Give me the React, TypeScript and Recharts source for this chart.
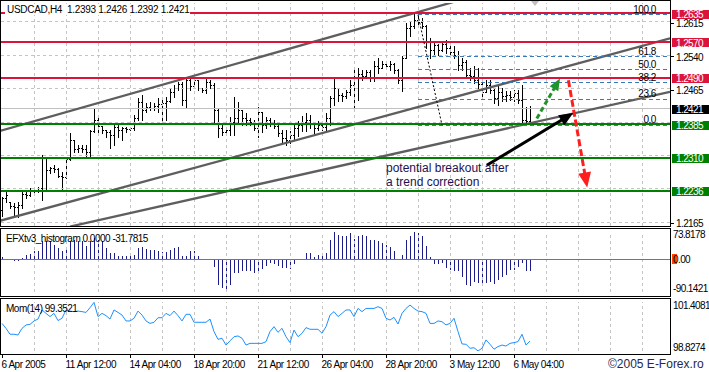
import React from 'react';
import { ComposedChart, Bar, Line, XAxis, YAxis, ReferenceLine } from 'recharts';

const FONT = '"Liberation Sans", Arial, sans-serif';

// USDCAD H4, 6 Apr 2005 20:00 .. 6 May 2005 20:00 (133 bars)
const barOpen = [
  1.2193, 1.2220, 1.2211, 1.2202, 1.2200, 1.2204, 1.2229, 1.2226, 1.2235, 1.2238,
  1.2242, 1.2309, 1.2282, 1.2287, 1.2285, 1.2269, 1.2267, 1.2307, 1.2350, 1.2329,
  1.2332, 1.2329, 1.2323, 1.2370, 1.2395, 1.2381, 1.2372, 1.2368, 1.2361, 1.2379,
  1.2372, 1.2377, 1.2374, 1.2377, 1.2399, 1.2435, 1.2417, 1.2424, 1.2421, 1.2426,
  1.2430, 1.2433, 1.2437, 1.2457, 1.2466, 1.2475, 1.2439, 1.2484, 1.2471, 1.2484,
  1.2466, 1.2462, 1.2480, 1.2473, 1.2417, 1.2377, 1.2368, 1.2372, 1.2390, 1.2399,
  1.2417, 1.2399, 1.2395, 1.2390, 1.2377, 1.2412, 1.2383, 1.2395, 1.2390, 1.2381,
  1.2365, 1.2354, 1.2350, 1.2361, 1.2377, 1.2383, 1.2390, 1.2395, 1.2386, 1.2377,
  1.2383, 1.2379, 1.2399, 1.2444, 1.2466, 1.2451, 1.2448, 1.2457, 1.2473, 1.2489,
  1.2498, 1.2493, 1.2502, 1.2489, 1.2516, 1.2511, 1.2520, 1.2516, 1.2520, 1.2507,
  1.2484, 1.2533, 1.2601, 1.2605, 1.2619, 1.2614, 1.2605, 1.2569, 1.2551, 1.2563,
  1.2551, 1.2565, 1.2556, 1.2547, 1.2540, 1.2518, 1.2525, 1.2495, 1.2493, 1.2484,
  1.2475, 1.2457, 1.2473, 1.2462, 1.2444, 1.2457, 1.2448, 1.2451, 1.2446, 1.2455,
  1.2439, 1.2395, 1.2393,
];
const barHigh = [
  1.2222, 1.2233, 1.2211, 1.2208, 1.2211, 1.2233, 1.2233, 1.2242, 1.2244, 1.2244,
  1.2316, 1.2309, 1.2289, 1.2294, 1.2287, 1.2278, 1.2309, 1.2365, 1.2350, 1.2338,
  1.2338, 1.2338, 1.2372, 1.2419, 1.2401, 1.2381, 1.2372, 1.2372, 1.2383, 1.2383,
  1.2379, 1.2379, 1.2379, 1.2406, 1.2444, 1.2451, 1.2433, 1.2435, 1.2433, 1.2444,
  1.2444, 1.2446, 1.2466, 1.2473, 1.2480, 1.2480, 1.2491, 1.2493, 1.2489, 1.2484,
  1.2466, 1.2489, 1.2484, 1.2477, 1.2421, 1.2388, 1.2379, 1.2401, 1.2446, 1.2435,
  1.2417, 1.2410, 1.2399, 1.2395, 1.2424, 1.2412, 1.2401, 1.2399, 1.2395, 1.2388,
  1.2372, 1.2372, 1.2370, 1.2388, 1.2392, 1.2404, 1.2410, 1.2406, 1.2388, 1.2392,
  1.2392, 1.2410, 1.2448, 1.2489, 1.2466, 1.2455, 1.2462, 1.2484, 1.2507, 1.2511,
  1.2507, 1.2507, 1.2507, 1.2527, 1.2533, 1.2527, 1.2522, 1.2527, 1.2522, 1.2509,
  1.2538, 1.2612, 1.2616, 1.2632, 1.2628, 1.2623, 1.2607, 1.2578, 1.2572, 1.2565,
  1.2572, 1.2574, 1.2567, 1.2560, 1.2549, 1.2533, 1.2529, 1.2511, 1.2516, 1.2511,
  1.2477, 1.2484, 1.2484, 1.2466, 1.2473, 1.2466, 1.2459, 1.2459, 1.2462, 1.2462,
  1.2473, 1.2424, 1.2426,
];
const barLow = [
  1.2179, 1.2211, 1.2197, 1.2177, 1.2177, 1.2197, 1.2220, 1.2224, 1.2231, 1.2233,
  1.2215, 1.2238, 1.2276, 1.2278, 1.2267, 1.2238, 1.2264, 1.2305, 1.2323, 1.2323,
  1.2323, 1.2309, 1.2309, 1.2368, 1.2365, 1.2365, 1.2356, 1.2332, 1.2338, 1.2356,
  1.2350, 1.2368, 1.2372, 1.2372, 1.2395, 1.2395, 1.2412, 1.2417, 1.2417, 1.2412,
  1.2395, 1.2395, 1.2435, 1.2446, 1.2462, 1.2428, 1.2424, 1.2462, 1.2466, 1.2462,
  1.2457, 1.2455, 1.2466, 1.2390, 1.2356, 1.2361, 1.2361, 1.2361, 1.2361, 1.2388,
  1.2383, 1.2383, 1.2383, 1.2372, 1.2356, 1.2368, 1.2377, 1.2381, 1.2377, 1.2359,
  1.2343, 1.2338, 1.2343, 1.2350, 1.2359, 1.2370, 1.2370, 1.2377, 1.2365, 1.2372,
  1.2372, 1.2372, 1.2383, 1.2428, 1.2437, 1.2437, 1.2444, 1.2451, 1.2421, 1.2439,
  1.2484, 1.2493, 1.2482, 1.2482, 1.2500, 1.2511, 1.2511, 1.2507, 1.2500, 1.2477,
  1.2459, 1.2533, 1.2583, 1.2601, 1.2607, 1.2601, 1.2556, 1.2533, 1.2538, 1.2540,
  1.2549, 1.2545, 1.2538, 1.2533, 1.2507, 1.2507, 1.2489, 1.2484, 1.2477, 1.2466,
  1.2448, 1.2457, 1.2455, 1.2433, 1.2428, 1.2437, 1.2437, 1.2439, 1.2437, 1.2433,
  1.2388, 1.2386, 1.2392,
];
const barClose = [
  1.2220, 1.2226, 1.2202, 1.2200, 1.2204, 1.2229, 1.2226, 1.2235, 1.2238, 1.2242,
  1.2309, 1.2282, 1.2287, 1.2285, 1.2269, 1.2267, 1.2307, 1.2350, 1.2329, 1.2332,
  1.2329, 1.2323, 1.2370, 1.2395, 1.2381, 1.2372, 1.2368, 1.2361, 1.2379, 1.2372,
  1.2377, 1.2374, 1.2377, 1.2399, 1.2435, 1.2417, 1.2424, 1.2421, 1.2426, 1.2430,
  1.2433, 1.2437, 1.2457, 1.2466, 1.2475, 1.2439, 1.2484, 1.2471, 1.2484, 1.2466,
  1.2462, 1.2480, 1.2473, 1.2417, 1.2377, 1.2368, 1.2372, 1.2390, 1.2399, 1.2417,
  1.2399, 1.2395, 1.2390, 1.2377, 1.2412, 1.2383, 1.2395, 1.2390, 1.2381, 1.2365,
  1.2354, 1.2350, 1.2361, 1.2377, 1.2383, 1.2390, 1.2395, 1.2386, 1.2377, 1.2383,
  1.2379, 1.2399, 1.2444, 1.2466, 1.2451, 1.2448, 1.2457, 1.2473, 1.2489, 1.2498,
  1.2493, 1.2502, 1.2489, 1.2516, 1.2511, 1.2520, 1.2516, 1.2520, 1.2507, 1.2484,
  1.2533, 1.2601, 1.2605, 1.2619, 1.2614, 1.2605, 1.2569, 1.2551, 1.2563, 1.2551,
  1.2565, 1.2556, 1.2547, 1.2540, 1.2518, 1.2525, 1.2495, 1.2493, 1.2484, 1.2475,
  1.2457, 1.2473, 1.2462, 1.2444, 1.2457, 1.2448, 1.2451, 1.2446, 1.2455, 1.2439,
  1.2395, 1.2392, 1.2421,
];

const efxHist = [
  4.5, -3, -4, -5, -6, 4, 12, 14, 21, 21,
  48, 48, 48, 39, 30, 21, 32, 48, 53, 48,
  48, 36, 50, 57, 53, 48, 30, 16, 16, 9,
  9, 7, 7, 12, 30, 33, 28, 25, 25, 23,
  18, 18, 25, 30, 33, 9, 9, 21, 21, 9,
  0, 0, 0, -23, -70, -79, -90.1, -70, -38, -38,
  -34, -34, -34, -38, -38, -27, -18, -11, -14, -20,
  -25, -25, -27, -14, -4, 0, 16, 16, 5, 12,
  12, 16, 51, 73.8, 66, 62, 62, 70, 55, 62,
  66, 64, 53, 53, 48, 44, 39, 33, 21, 0,
  12, 53, 62, 73, 71, 62, 36, 5, -13, -13,
  -11, -25, -31, -34, -34, -50, -70, -73, -64, -65,
  -73, -65, -63, -68, -56, -50, -43, -31, -29, -22,
  -11, -34, -31.78,
];

const momentum = [
  100.28, 100.02, 99.71, 99.71, 99.67, 100.02, 100.2, 100.23, 100.41, 100.51,
  100.99, 100.81, 100.64, 100.81, 100.43, 100.55, 100.99, 100.93, 100.9, 100.93,
  100.9, 100.86, 101.11, 101.39, 100.64, 100.81, 100.69, 100.51, 100.99, 100.86,
  100.72, 100.41, 100.41, 100.55, 100.93, 100.72, 100.41, 100.28, 100.34, 100.58,
  100.58, 100.81, 100.69, 100.93, 100.69, 100.41, 100.76, 100.76, 100.34, 100.34,
  100.34, 100.34, 100.51, 99.85, 99.44, 99.5, 99.14, 99.36, 99.58, 99.62,
  99.5, 99.14, 99.23, 99.23, 99.23, 99.23, 99.32, 99.85, 100.11, 99.81,
  100.02, 99.58, 99.27, 99.93, 99.58, 99.76, 100.06, 99.97, 99.97, 99.97,
  99.76, 100.11, 100.72, 100.9, 100.64, 100.81, 100.99, 100.99, 100.64, 101.07,
  100.9, 101.07, 101.07, 101.07, 101.16, 101.07, 100.55, 100.46, 100.6, 100.25,
  100.81, 101.07, 101.25, 101.07, 100.93, 100.9, 100.81, 100.28, 100.28, 100.41,
  100.37, 100.2, 100.28, 100.55, 99.85, 99.2, 99.18, 98.97, 99.0, 98.83,
  98.97, 99.41, 99.18, 98.92, 99.06, 99.14, 99.09, 99.23, 99.27, 99.32,
  99.71, 99.14, 99.3521,
];

const timeLabels = ['6 Apr 2005', '11 Apr 12:00', '14 Apr 04:00', '18 Apr 20:00', '21 Apr 12:00', '26 Apr 04:00', '28 Apr 20:00', '3 May 12:00', '6 May 04:00'];
const timeLabelBars = [0, 16, 32, 48, 64, 80, 96, 112, 128];
const gridBars = [8, 16, 24, 32, 40, 48, 56, 64, 72, 80, 88, 96, 104, 112, 120, 128, 136, 144, 152, 160];

const priceGrid = [1.2165, 1.224, 1.2315, 1.239, 1.2465, 1.254, 1.2615];
const priceAxisLabels = [1.2165, 1.2465, 1.254, 1.2615];
const redLevels = [1.2635, 1.257, 1.249];
const greenLevels = [1.2385, 1.231, 1.2236];
const bidPrice = 1.2421;

const fibHigh = 1.2631;
const fibLow = 1.2383;
const fibRatios = [100, 61.8, 50, 38.2, 23.6, 0];

// [bar, price] end points of hand-drawn objects
const trendLines = [
  { from: [-0.5, 1.237], to: [114.5, 1.2664] },
  { from: [-0.5, 1.2168], to: [167, 1.2578] },
  { from: [17, 1.2155], to: [167, 1.2458] },
];
const arrows = [
  { from: [133.7, 1.2398], to: [139.5, 1.2488], color: '#22922a', dash: '5 3', head: [12, 10] },
  { from: [141.6, 1.2484], to: [146.3, 1.2243], color: '#ff1e1e', dash: '7 3', head: [15, 13] },
  { from: [121.2, 1.2293], to: [142.8, 1.241], color: '#000000', dash: undefined, head: [14, 12] },
];

const histTicks = [73.8178, 0, -90.1421];
const momTicks = [101.4081, 98.8274];

const PRICE_DOMAIN: [number, number] = [1.21563, 1.26575];
const X_DOMAIN: [number, number] = [-0.5, 167];

const rows = barOpen.map((o, i) => ({
  bar: i,
  range: [barLow[i], barHigh[i]],
  open: o,
  close: barClose[i],
  hist: efxHist[i],
  mom: momentum[i],
}));

const gridStroke = '#c4c4c4';
const labelFont = { fontSize: 10, fontFamily: FONT, letterSpacing: -0.6 };

function OhlcBar(props: any) {
  const { x, y, width, height, payload } = props;
  if (!payload || x == null) return null;
  const cx = Math.round(x + width / 2);
  const top = Math.min(y, y + height);
  const span = Math.abs(height);
  const [lo, hi] = payload.range;
  const toY = (v: number) => (hi === lo ? top : top + ((hi - v) / (hi - lo)) * span);
  const yH = Math.round(top);
  const yL = Math.round(top + span);
  const yO = Math.round(toY(payload.open));
  const yC = Math.round(toY(payload.close));
  return (
    <g fill="#000">
      <rect x={cx} y={yH} width={1} height={Math.max(1, yL - yH + 1)} />
      <rect x={cx - 1} y={yO} width={1} height={1} />
      <rect x={cx + 1} y={yC} width={1} height={1} />
    </g>
  );
}

function HistBar(props: any) {
  const { x, y, width, height } = props;
  if (x == null || !height) return null;
  const cx = Math.round(x + width / 2);
  const t = Math.round(Math.min(y, y + height));
  const b = Math.round(Math.max(y, y + height));
  if (b - t < 1) return null;
  return <rect x={cx} y={t} width={1} height={b - t} fill="#1c1c88" />;
}

function PriceTick(props: any) {
  const { x, y, payload } = props;
  const v = payload.value;
  const label = v.toFixed(4);
  let box: string | null = null;
  if (redLevels.includes(v)) box = '#dc143c';
  else if (greenLevels.includes(v)) box = '#008000';
  else if (v === bidPrice) box = '#000000';
  if (box) {
    return (
      <g>
        <rect x={x + 2} y={Math.round(y - 3.5)} width={39} height={9} fill={box} />
        <text x={x + 6} y={y + 4.8} fill="#fff" {...labelFont}>{label}</text>
      </g>
    );
  }
  const ty = Math.round(y + 1) + 0.5;
  return (
    <g>
      <line x1={x + 1} x2={x + 4} y1={ty} y2={ty} stroke="#000" />
      <text x={x + 6} y={y + 5.3} fill="#000" {...labelFont}>{label}</text>
    </g>
  );
}

function HistTick(props: any) {
  const { x, y, payload } = props;
  const v = payload.value;
  if (v === 0) {
    return (
      <g>
        <rect x={x + 2} y={Math.round(y) - 5} width={5} height={10} fill="#ff4500" />
        <text x={x + 3} y={y + 3.6} fill="#000" {...labelFont}>0.00</text>
      </g>
    );
  }
  const dy = v > 0 ? 5.9 : -0.1;
  return <text x={x + 3} y={y + dy} fill="#000" {...labelFont}>{v.toFixed(4)}</text>;
}

function MomTick(props: any) {
  const { x, y, payload } = props;
  const v = payload.value;
  const dy = v > 100 ? 6.6 : -0.1;
  return <text x={x + 3} y={y + dy} fill="#000" {...labelFont}>{v.toFixed(4)}</text>;
}

function TimeTick(props: any) {
  const { x, y, payload } = props;
  const k = timeLabelBars.indexOf(payload.value);
  const px = Math.round(x) + 0.5;
  return (
    <g>
      <line x1={px} x2={px} y1={y + 4} y2={y + 7} stroke="#000" />
      <text x={x - 0.5} y={y + 16.6} fill="#000" fontSize={10} fontFamily={FONT} letterSpacing={-0.45}>
        {timeLabels[k]}
      </text>
    </g>
  );
}

function arrowShape(a: any) {
  return (p: any) => {
    const { x1, y1, x2, y2 } = p;
    const dx = x2 - x1;
    const dy = y2 - y1;
    const len = Math.hypot(dx, dy) || 1;
    const ux = dx / len;
    const uy = dy / len;
    const [hl, hw] = a.head;
    const bx = x2 - ux * hl;
    const by = y2 - uy * hl;
    const nx = -uy * (hw / 2);
    const ny = ux * (hw / 2);
    return (
      <g>
        <line x1={x1} y1={y1} x2={bx + ux} y2={by + uy} stroke={a.color} strokeWidth={3} strokeDasharray={a.dash} />
        <polygon points={`${x2},${y2} ${bx + nx},${by + ny} ${bx - nx},${by - ny}`} fill={a.color} />
      </g>
    );
  };
}

function fibShape(text: string) {
  return (p: any) => (
    <g>
      <line x1={p.x1} y1={p.y1} x2={p.x2} y2={p.y2} stroke="#3a78b8" strokeDasharray="4 3" shapeRendering="crispEdges" />
      <text x={p.x2 - 11} y={p.y1 - 2} textAnchor="end" fill="#000" fontSize={10} fontFamily={FONT} letterSpacing={-0.5}>
        {text}
      </text>
    </g>
  );
}

function vGrid() {
  return gridBars.map((b) => (
    <ReferenceLine key={'gx' + b} x={b} stroke={gridStroke} strokeDasharray="3 3" shapeRendering="crispEdges" />
  ));
}

function PriceChart() {
  return (
    <ComposedChart width={709} height={232} data={rows} margin={{ top: 3, right: 0, bottom: 6, left: 0 }}>
      <XAxis dataKey="bar" type="number" domain={X_DOMAIN} hide allowDataOverflow />
      <YAxis
        orientation="right"
        type="number"
        domain={PRICE_DOMAIN}
        allowDataOverflow
        width={39}
        ticks={[...priceAxisLabels, ...redLevels, ...greenLevels, bidPrice]}
        interval={0}
        tick={<PriceTick />}
        tickLine={false}
        axisLine={false}
        tickSize={0}
        tickMargin={0}
      />
      {vGrid()}
      {priceGrid.map((p) => (
        <ReferenceLine key={'gy' + p} y={p} stroke={gridStroke} strokeDasharray="3 3" shapeRendering="crispEdges" />
      ))}
      <ReferenceLine y={bidPrice} stroke="#c0c0c0" shapeRendering="crispEdges" />
      <Bar dataKey="range" barSize={1} shape={<OhlcBar />} isAnimationActive={false} />
      {trendLines.map((t, k) => (
        <ReferenceLine
          key={'tl' + k}
          segment={[{ x: t.from[0], y: t.from[1] }, { x: t.to[0], y: t.to[1] }]}
          stroke="#5e5e5e"
          strokeWidth={2.3}
          ifOverflow="hidden"
        />
      ))}
      {redLevels.map((p) => (
        <ReferenceLine key={'r' + p} y={p} stroke="#dc143c" strokeWidth={2} shapeRendering="crispEdges" />
      ))}
      {greenLevels.map((p) => (
        <ReferenceLine key={'g' + p} y={p} stroke="#008000" strokeWidth={2} shapeRendering="crispEdges" />
      ))}
      {fibRatios.map((r) => {
        const lvl = fibLow + ((fibHigh - fibLow) * r) / 100;
        return (
          <ReferenceLine
            key={'fib' + r}
            segment={[{ x: 104, y: lvl }, { x: 166.2, y: lvl }]}
            ifOverflow="visible"
            shape={fibShape(r.toFixed(1))}
          />
        );
      })}
      <ReferenceLine
        segment={[{ x: 104, y: fibHigh }, { x: 110, y: fibLow }]}
        stroke="#000"
        strokeDasharray="2 2"
        ifOverflow="visible"
      />
      {arrows.map((a, k) => (
        <ReferenceLine
          key={'ar' + k}
          segment={[{ x: a.from[0], y: a.from[1] }, { x: a.to[0], y: a.to[1] }]}
          ifOverflow="visible"
          shape={arrowShape(a)}
        />
      ))}
    </ComposedChart>
  );
}

function HistChart() {
  return (
    <ComposedChart width={709} height={68} data={rows} margin={{ top: 4, right: 0, bottom: 4, left: 0 }}>
      <XAxis dataKey="bar" type="number" domain={X_DOMAIN} hide allowDataOverflow />
      <YAxis
        orientation="right"
        type="number"
        domain={[-90.1421, 73.8178]}
        allowDataOverflow
        width={39}
        ticks={histTicks}
        interval={0}
        tick={<HistTick />}
        tickLine={false}
        axisLine={false}
        tickSize={0}
        tickMargin={0}
      />
      {vGrid()}
      <Bar dataKey="hist" barSize={1} shape={<HistBar />} isAnimationActive={false} />
      <ReferenceLine y={0} stroke="#ff4500" shapeRendering="crispEdges" />
    </ComposedChart>
  );
}

function MomChart() {
  return (
    <ComposedChart width={709} height={74} data={rows} margin={{ top: 4, right: 0, bottom: 0, left: 0 }}>
      <XAxis
        dataKey="bar"
        type="number"
        domain={X_DOMAIN}
        allowDataOverflow
        height={21}
        ticks={timeLabelBars}
        interval={0}
        tick={<TimeTick />}
        tickLine={false}
        axisLine={false}
        tickSize={0}
        tickMargin={0}
      />
      <YAxis
        orientation="right"
        type="number"
        domain={[98.8274, 101.4081]}
        allowDataOverflow
        width={39}
        ticks={momTicks}
        interval={0}
        tick={<MomTick />}
        tickLine={false}
        axisLine={false}
        tickSize={0}
        tickMargin={0}
      />
      {vGrid()}
      <Line type="linear" dataKey="mom" stroke="#1e90ff" strokeWidth={1} dot={false} isAnimationActive={false} />
    </ComposedChart>
  );
}

const boxStyle = (top: number, height: number): React.CSSProperties => ({
  position: 'absolute',
  left: 0,
  top,
  width: 671,
  height,
  border: '1px solid #000',
  boxSizing: 'border-box',
  pointerEvents: 'none',
});

const smallText: React.CSSProperties = {
  position: 'absolute',
  fontFamily: FONT,
  fontSize: 10,
  letterSpacing: -0.5,
  lineHeight: '11px',
  color: '#000',
  whiteSpace: 'pre',
};

export default function App() {
  return (
    <div style={{ position: 'absolute', left: 0, top: 0, width: 709, height: 372, background: '#fff', overflow: 'hidden' }}>
      <div style={{ position: 'absolute', left: 0, top: 0 }}>
        <PriceChart />
      </div>
      <div style={{ position: 'absolute', left: 0, top: 228 }}>
        <HistChart />
      </div>
      <div style={{ position: 'absolute', left: 0, top: 298 }}>
        <MomChart />
      </div>
      <div style={boxStyle(0, 227)} />
      <div style={boxStyle(228, 69)} />
      <div style={boxStyle(298, 57)} />
      <svg style={{ position: 'absolute', left: 531, top: 1 }} width={9} height={7}>
        <polygon points="0,0 8,0 4,5" fill="#c0c0c0" />
      </svg>
      <div style={{ ...smallText, left: 5, top: 4, letterSpacing: -0.3, background: '#fff', paddingLeft: 2 }}>
        {'USDCAD,H4  1.2393 1.2426 1.2392 1.2421'}
      </div>
      <div style={{ ...smallText, left: 6, top: 233 }}>{'EFXtv3_histogram 0.0000 -31.7815'}</div>
      <div style={{ ...smallText, left: 6, top: 303 }}>{'Mom(14) 99.3521'}</div>
      <div
        style={{
          position: 'absolute',
          left: 386,
          top: 161,
          fontFamily: FONT,
          fontSize: 12,
          lineHeight: '14px',
          color: '#1d1152',
          whiteSpace: 'pre',
        }}
      >
        {'potential breakout after\na trend correction'}
      </div>
      <div
        style={{
          position: 'absolute',
          left: 608,
          top: 357,
          fontFamily: FONT,
          fontSize: 12,
          lineHeight: '14px',
          color: '#262650',
          whiteSpace: 'pre',
        }}
      >
        {'©2005 E-Forex.ro'}
      </div>
    </div>
  );
}
